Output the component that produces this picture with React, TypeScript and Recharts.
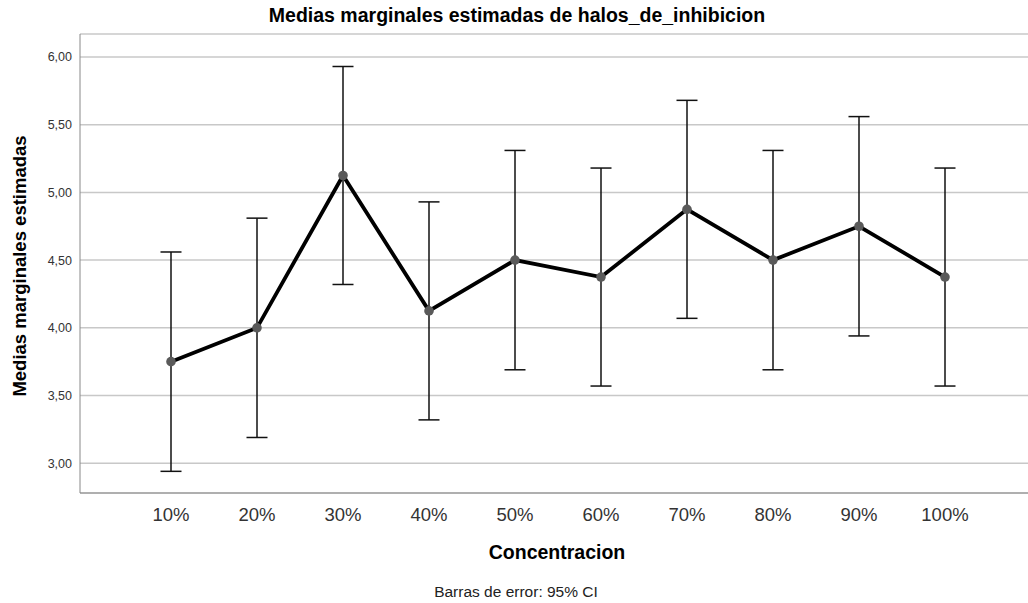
import React from 'react';
import { LineChart, Line, XAxis, YAxis, CartesianGrid, ErrorBar } from 'recharts';

const categories = ['10%', '20%', '30%', '40%', '50%', '60%', '70%', '80%', '90%', '100%'];
const means = [3.75, 4.0, 5.125, 4.125, 4.5, 4.375, 4.875, 4.5, 4.75, 4.375];
const lower = [2.94, 3.19, 4.32, 3.32, 3.69, 3.57, 4.07, 3.69, 3.94, 3.57];
const upper = [4.56, 4.81, 5.93, 4.93, 5.31, 5.18, 5.68, 5.31, 5.56, 5.18];
const yTicks = [3, 3.5, 4, 4.5, 5, 5.5, 6];

const data = categories.map((name, i) => ({
  name,
  mean: means[i],
  err: [means[i] - lower[i], upper[i] - means[i]],
}));

const font = 'Arial, "Liberation Sans", sans-serif';

// centred text helper, cx/cy in page pixels
const Centered = ({ cx, cy, size, bold, color, rotate, children }: any) => (
  <div style={{ position: 'absolute', left: cx, top: cy, width: 0, height: 0 }}>
    <div
      style={{
        position: 'absolute',
        transform: `translate(-50%, -50%)${rotate ? ' rotate(-90deg)' : ''}`,
        whiteSpace: 'nowrap',
        fontWeight: bold ? 'bold' : 'normal',
        fontSize: size,
        lineHeight: 1,
        color,
      }}
    >
      {children}
    </div>
  </div>
);

export default function App() {
  return (
    <div style={{ position: 'absolute', left: 0, top: 0, width: 1028, height: 603, background: '#fff', fontFamily: font }}>
      <LineChart
        width={1028}
        height={603}
        data={data}
        margin={{ top: 34, right: 0, left: 0, bottom: 80 }}
        style={{ position: 'absolute', left: 0, top: 0 }}
      >
        <CartesianGrid vertical={false} stroke="#c8c8c8" strokeWidth={1.5} />
        <XAxis
          dataKey="name"
          padding={{ left: 91, right: 83 }}
          tickLine={false}
          tickMargin={9}
          stroke="#888"
          tick={{ fill: '#333', fontSize: 18.5, fontFamily: font }}
        />
        <YAxis
          domain={[2.78, 6.17]}
          ticks={yTicks}
          width={80}
          tickLine={false}
          tickMargin={2}
          stroke="#888"
          tickFormatter={(v: number) => v.toFixed(2).replace('.', ',')}
          tick={{ fill: '#333', fontSize: 12.5, fontFamily: font }}
        />
        <Line
          type="linear"
          dataKey="mean"
          stroke="#000"
          strokeWidth={3.8}
          dot={{ r: 4.8, fill: '#5a5a5a', stroke: '#5a5a5a', strokeWidth: 0 }}
          isAnimationActive={false}
        >
          <ErrorBar dataKey="err" width={10.5} stroke="#111" strokeWidth={1.5} direction="y" />
        </Line>
      </LineChart>
      <Centered cx={517} cy={16} size={19.5} bold color="#000">
        Medias marginales estimadas de halos_de_inhibicion
      </Centered>
      <Centered cx={20} cy={266} size={18.5} bold color="#000" rotate>
        Medias marginales estimadas
      </Centered>
      <Centered cx={557} cy={553} size={19.5} bold color="#000">
        Concentracion
      </Centered>
      <Centered cx={516} cy={592} size={15.5} color="#222">
        Barras de error: 95% CI
      </Centered>
    </div>
  );
}
